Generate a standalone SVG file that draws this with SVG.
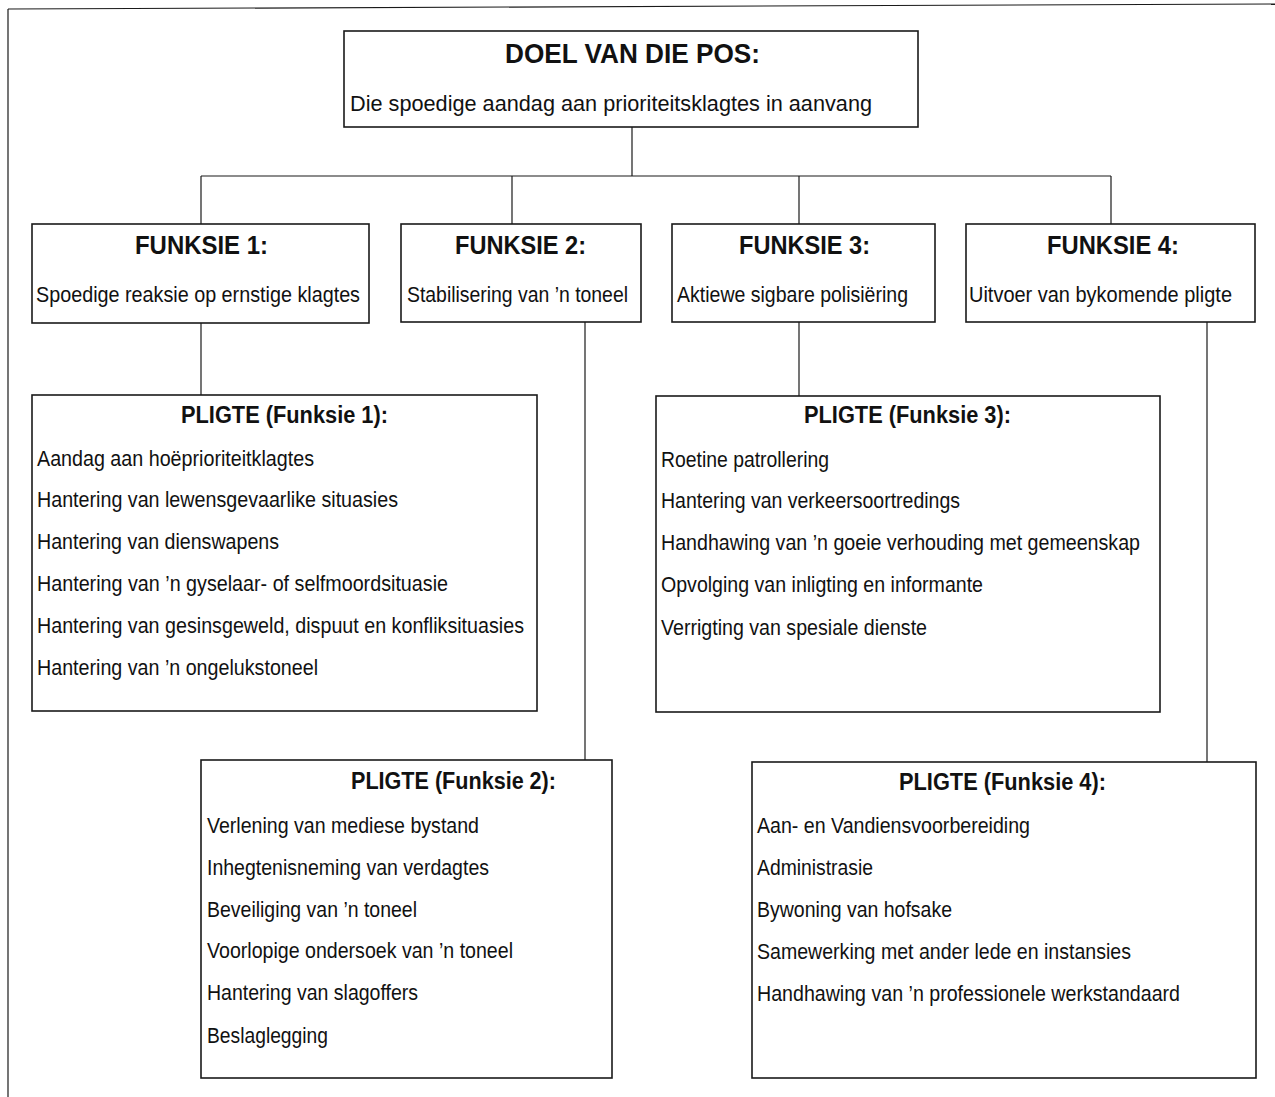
<svg xmlns="http://www.w3.org/2000/svg" width="1275" height="1097" viewBox="0 0 1275 1097">
<style>
.box{fill:#fff;stroke:#1a1a1a;stroke-width:1.6}
.con line,.frame{stroke:#1a1a1a;stroke-width:1.2;fill:none}
text{font-family:"Liberation Sans Narrow","Liberation Sans",Arial,sans-serif;fill:#111}
.h1{font-size:28px;font-weight:bold}
.h2{font-size:26px;font-weight:bold}
.h3{font-size:23px;font-weight:bold}
.t{font-size:22px}
</style>
<rect width="1275" height="1097" fill="#fff"/>
<g id="frame">
<line class="frame" x1="8" y1="9" x2="1275" y2="4"/>
<line class="frame" x1="8" y1="9" x2="8" y2="1097"/>
</g>
<g id="connectors" class="con">
<line x1="632" y1="127" x2="632" y2="176"/>
<line x1="201" y1="176" x2="1111" y2="176"/>
<line x1="201" y1="176" x2="201" y2="224"/>
<line x1="512" y1="176" x2="512" y2="224"/>
<line x1="799" y1="176" x2="799" y2="224"/>
<line x1="1111" y1="176" x2="1111" y2="224"/>
<line x1="201" y1="323" x2="201" y2="395"/>
<line x1="585" y1="322" x2="585" y2="760"/>
<line x1="799" y1="322" x2="799" y2="396"/>
<line x1="1207" y1="322" x2="1207" y2="762"/>
</g>
<g id="doel">
<rect class="box" x="344" y="31" width="574" height="96"/>
<text class="h1" x="505" y="63" textLength="255" lengthAdjust="spacingAndGlyphs">DOEL VAN DIE POS:</text>
<text class="t" x="350" y="111" textLength="522" lengthAdjust="spacingAndGlyphs">Die spoedige aandag aan prioriteitsklagtes in aanvang</text>
</g>
<g id="funksie1">
<rect class="box" x="32" y="224" width="337" height="99"/>
<text class="h2" x="135" y="254" textLength="133" lengthAdjust="spacingAndGlyphs">FUNKSIE 1:</text>
<text class="t" x="36" y="302" textLength="324" lengthAdjust="spacingAndGlyphs">Spoedige reaksie op ernstige klagtes</text>
</g>
<g id="funksie2">
<rect class="box" x="401" y="224" width="240" height="98"/>
<text class="h2" x="455" y="254" textLength="131" lengthAdjust="spacingAndGlyphs">FUNKSIE 2:</text>
<text class="t" x="407" y="302" textLength="221" lengthAdjust="spacingAndGlyphs">Stabilisering van ’n toneel</text>
</g>
<g id="funksie3">
<rect class="box" x="672" y="224" width="263" height="98"/>
<text class="h2" x="739" y="254" textLength="131" lengthAdjust="spacingAndGlyphs">FUNKSIE 3:</text>
<text class="t" x="677" y="302" textLength="231" lengthAdjust="spacingAndGlyphs">Aktiewe sigbare polisiëring</text>
</g>
<g id="funksie4">
<rect class="box" x="966" y="224" width="289" height="98"/>
<text class="h2" x="1047" y="254" textLength="132" lengthAdjust="spacingAndGlyphs">FUNKSIE 4:</text>
<text class="t" x="969" y="302" textLength="263" lengthAdjust="spacingAndGlyphs">Uitvoer van bykomende pligte</text>
</g>
<g id="pligte1">
<rect class="box" x="32" y="395" width="505" height="316"/>
<text class="h3" x="181" y="423" textLength="207" lengthAdjust="spacingAndGlyphs">PLIGTE (Funksie 1):</text>
<text class="t" x="37" y="466" textLength="277" lengthAdjust="spacingAndGlyphs">Aandag aan hoëprioriteitklagtes</text>
<text class="t" x="37" y="507" textLength="361" lengthAdjust="spacingAndGlyphs">Hantering van lewensgevaarlike situasies</text>
<text class="t" x="37" y="549" textLength="242" lengthAdjust="spacingAndGlyphs">Hantering van dienswapens</text>
<text class="t" x="37" y="591" textLength="411" lengthAdjust="spacingAndGlyphs">Hantering van ’n gyselaar- of selfmoordsituasie</text>
<text class="t" x="37" y="633" textLength="487" lengthAdjust="spacingAndGlyphs">Hantering van gesinsgeweld, dispuut en konfliksituasies</text>
<text class="t" x="37" y="675" textLength="281" lengthAdjust="spacingAndGlyphs">Hantering van ’n ongelukstoneel</text>
</g>
<g id="pligte3">
<rect class="box" x="656" y="396" width="504" height="316"/>
<text class="h3" x="804" y="423" textLength="207" lengthAdjust="spacingAndGlyphs">PLIGTE (Funksie 3):</text>
<text class="t" x="661" y="467" textLength="168" lengthAdjust="spacingAndGlyphs">Roetine patrollering</text>
<text class="t" x="661" y="508" textLength="299" lengthAdjust="spacingAndGlyphs">Hantering van verkeersoortredings</text>
<text class="t" x="661" y="550" textLength="479" lengthAdjust="spacingAndGlyphs">Handhawing van ’n goeie verhouding met gemeenskap</text>
<text class="t" x="661" y="592" textLength="322" lengthAdjust="spacingAndGlyphs">Opvolging van inligting en informante</text>
<text class="t" x="661" y="635" textLength="266" lengthAdjust="spacingAndGlyphs">Verrigting van spesiale dienste</text>
</g>
<g id="pligte2">
<rect class="box" x="201" y="760" width="411" height="318"/>
<text class="h3" x="351" y="789" textLength="205" lengthAdjust="spacingAndGlyphs">PLIGTE (Funksie 2):</text>
<text class="t" x="207" y="833" textLength="272" lengthAdjust="spacingAndGlyphs">Verlening van mediese bystand</text>
<text class="t" x="207" y="875" textLength="282" lengthAdjust="spacingAndGlyphs">Inhegtenisneming van verdagtes</text>
<text class="t" x="207" y="917" textLength="210" lengthAdjust="spacingAndGlyphs">Beveiliging van ’n toneel</text>
<text class="t" x="207" y="958" textLength="306" lengthAdjust="spacingAndGlyphs">Voorlopige ondersoek van ’n toneel</text>
<text class="t" x="207" y="1000" textLength="211" lengthAdjust="spacingAndGlyphs">Hantering van slagoffers</text>
<text class="t" x="207" y="1043" textLength="121" lengthAdjust="spacingAndGlyphs">Beslaglegging</text>
</g>
<g id="pligte4">
<rect class="box" x="752" y="762" width="504" height="316"/>
<text class="h3" x="899" y="790" textLength="207" lengthAdjust="spacingAndGlyphs">PLIGTE (Funksie 4):</text>
<text class="t" x="757" y="833" textLength="273" lengthAdjust="spacingAndGlyphs">Aan- en Vandiensvoorbereiding</text>
<text class="t" x="757" y="875" textLength="116" lengthAdjust="spacingAndGlyphs">Administrasie</text>
<text class="t" x="757" y="917" textLength="195" lengthAdjust="spacingAndGlyphs">Bywoning van hofsake</text>
<text class="t" x="757" y="959" textLength="374" lengthAdjust="spacingAndGlyphs">Samewerking met ander lede en instansies</text>
<text class="t" x="757" y="1001" textLength="423" lengthAdjust="spacingAndGlyphs">Handhawing van ’n professionele werkstandaard</text>
</g>
</svg>
